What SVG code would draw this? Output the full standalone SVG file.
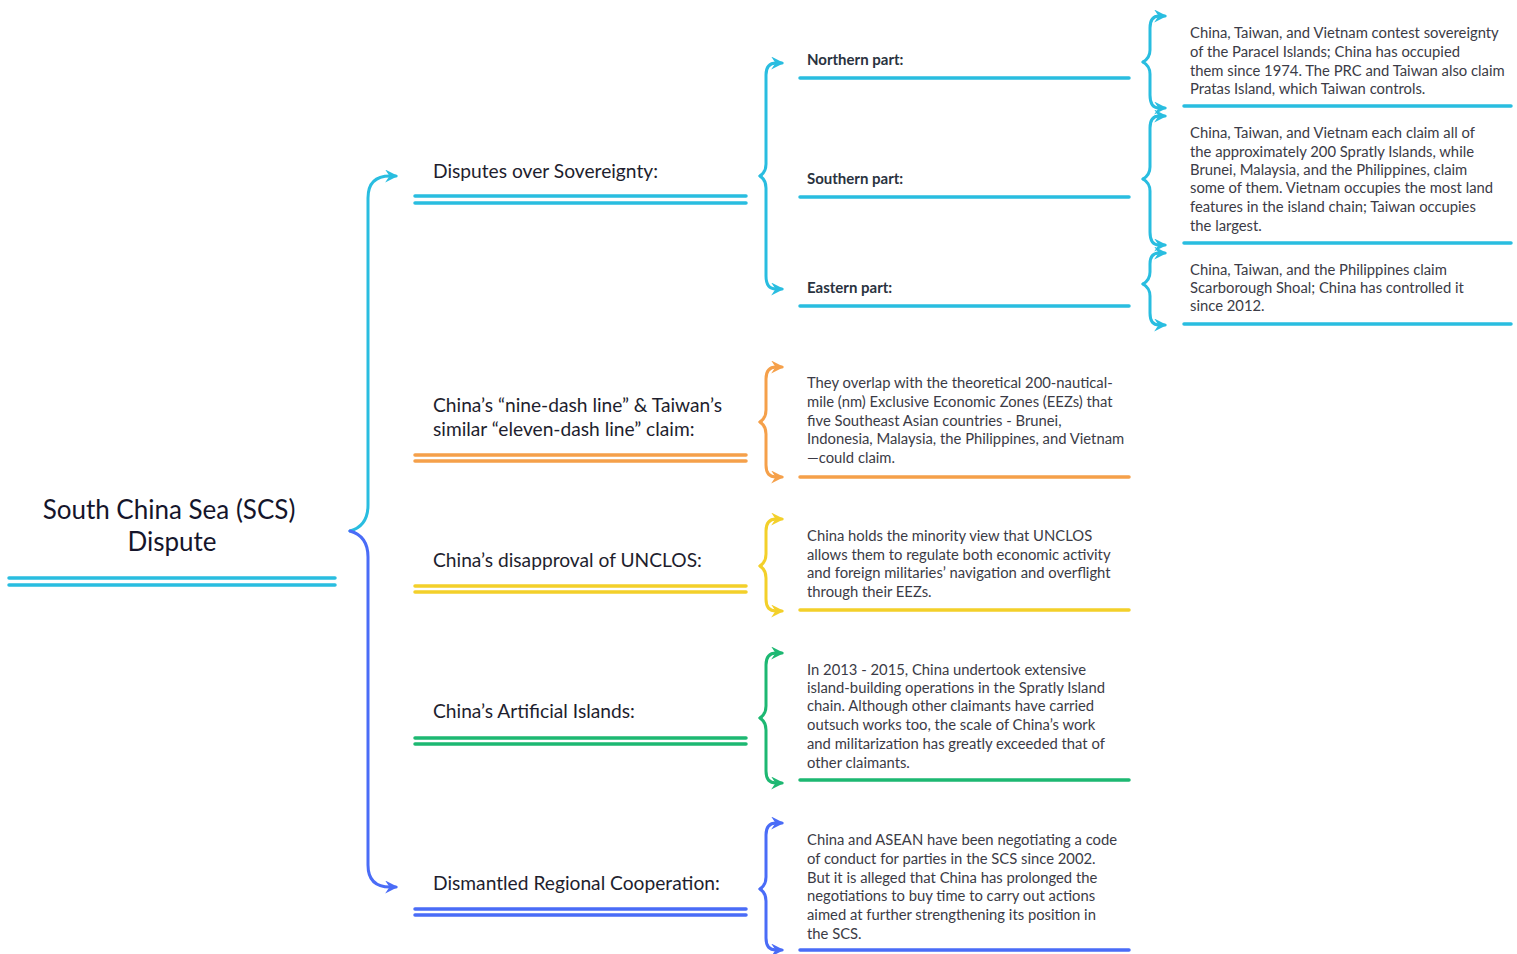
<svg xmlns="http://www.w3.org/2000/svg" width="1517" height="954" viewBox="0 0 1517 954">
<style>
text{font-family:Lato,"Open Sans","Liberation Sans",sans-serif;}
.root{font-size:26px;fill:#15152b;text-anchor:middle;}
.l1{font-size:19.2px;fill:#1e1e2e;}
.l2{font-size:15px;font-weight:bold;fill:#2a3340;}
.d{font-size:14.8px;fill:#3b3b46;}
.b{fill:none;stroke-width:3;stroke-linecap:round;stroke-linejoin:round;}
.u{fill:none;stroke-width:3.5;stroke-linecap:round;}
.cy{stroke:#29bde0;}
.bl{stroke:#4a6cf7;}
.or{stroke:#f5a04a;}
.ye{stroke:#f3d02a;}
.gr{stroke:#1db872;}
</style>
<defs>
<marker id="mcy" viewBox="0 0 12 12" refX="10" refY="6" markerWidth="13" markerHeight="13" markerUnits="userSpaceOnUse" orient="auto"><path d="M0,0 L12,6 L0,12 L4,6 z" fill="#29bde0"/></marker>
<marker id="mbl" viewBox="0 0 12 12" refX="10" refY="6" markerWidth="13" markerHeight="13" markerUnits="userSpaceOnUse" orient="auto"><path d="M0,0 L12,6 L0,12 L4,6 z" fill="#4a6cf7"/></marker>
<marker id="mor" viewBox="0 0 12 12" refX="10" refY="6" markerWidth="13" markerHeight="13" markerUnits="userSpaceOnUse" orient="auto"><path d="M0,0 L12,6 L0,12 L4,6 z" fill="#f5a04a"/></marker>
<marker id="mye" viewBox="0 0 12 12" refX="10" refY="6" markerWidth="13" markerHeight="13" markerUnits="userSpaceOnUse" orient="auto"><path d="M0,0 L12,6 L0,12 L4,6 z" fill="#f3d02a"/></marker>
<marker id="mgr" viewBox="0 0 12 12" refX="10" refY="6" markerWidth="13" markerHeight="13" markerUnits="userSpaceOnUse" orient="auto"><path d="M0,0 L12,6 L0,12 L4,6 z" fill="#1db872"/></marker>
</defs>

<g id="connectors">
<path class="b cy" d="M350,531 Q368,526 368,505 L368,198 Q368,176 390,176 L396,176" marker-end="url(#mcy)"/>
<path class="b bl" d="M350,531 Q368,536 368,557 L368,865 Q368,887 390,887 L396,887" marker-end="url(#mbl)"/>
<path class="b cy" d="M760,176 Q766,172 766,164 L766,75 Q766,63 776,63 L782,63" marker-end="url(#mcy)"/>
<path class="b cy" d="M760,176 Q766,180 766,188 L766,276 Q766,289 776,289 L782,289" marker-end="url(#mcy)"/>
<path class="b cy" d="M1143,62 Q1150,58 1150,50 L1150,28 Q1150,16 1159,16 L1165,16" marker-end="url(#mcy)"/>
<path class="b cy" d="M1143,62 Q1150,66 1150,74 L1150,95 Q1150,108 1159,108 L1165,108" marker-end="url(#mcy)"/>
<path class="b cy" d="M1143,179 Q1150,175 1150,167 L1150,128 Q1150,116 1159,116 L1165,116" marker-end="url(#mcy)"/>
<path class="b cy" d="M1143,179 Q1150,183 1150,191 L1150,232 Q1150,245 1159,245 L1165,245" marker-end="url(#mcy)"/>
<path class="b cy" d="M1143,284 Q1150,280 1150,272 L1150,264 Q1150,253 1159,253 L1165,253" marker-end="url(#mcy)"/>
<path class="b cy" d="M1143,284 Q1150,288 1150,296 L1150,313 Q1150,325 1159,325 L1165,325" marker-end="url(#mcy)"/>
<path class="b or" d="M760,422 Q766,418 766,410 L766,379 Q766,367 776,367 L782,367" marker-end="url(#mor)"/>
<path class="b or" d="M760,422 Q766,426 766,434 L766,465 Q766,477 776,477 L782,477" marker-end="url(#mor)"/>
<path class="b ye" d="M760,566 Q766,562 766,554 L766,531 Q766,519 776,519 L782,519" marker-end="url(#mye)"/>
<path class="b ye" d="M760,566 Q766,570 766,578 L766,599 Q766,611 776,611 L782,611" marker-end="url(#mye)"/>
<path class="b gr" d="M760,718 Q766,714 766,706 L766,665 Q766,653 776,653 L782,653" marker-end="url(#mgr)"/>
<path class="b gr" d="M760,718 Q766,722 766,730 L766,771 Q766,783 776,783 L782,783" marker-end="url(#mgr)"/>
<path class="b bl" d="M760,889 Q766,885 766,877 L766,835 Q766,823 776,823 L782,823" marker-end="url(#mbl)"/>
<path class="b bl" d="M760,889 Q766,893 766,901 L766,938 Q766,950 776,950 L782,950" marker-end="url(#mbl)"/>
</g>

<g id="root">
<text class="root" x="169" y="519">South China Sea (SCS)</text>
<text class="root" x="172" y="551">Dispute</text>
<line class="u cy" x1="9" y1="578" x2="335" y2="578"/>
<line class="u cy" x1="9" y1="585" x2="335" y2="585"/>
</g>

<g id="sovereignty">
<text class="l1" x="433" y="178">Disputes over Sovereignty:</text>
<line class="u cy" x1="415" y1="196" x2="746" y2="196"/>
<line class="u cy" x1="415" y1="203" x2="746" y2="203"/>
</g>
<g id="northern">
<text class="l2" x="807" y="65">Northern part:</text>
<line class="u cy" x1="800" y1="78" x2="1129" y2="78"/>
</g>
<g id="northern-desc">
<text class="d" x="1190" y="38">China, Taiwan, and Vietnam contest sovereignty</text>
<text class="d" x="1190" y="57">of the Paracel Islands; China has occupied</text>
<text class="d" x="1190" y="76">them since 1974. The PRC and Taiwan also claim</text>
<text class="d" x="1190" y="94">Pratas Island, which Taiwan controls.</text>
<line class="u cy" x1="1184" y1="106" x2="1511" y2="106"/>
</g>
<g id="southern">
<text class="l2" x="807" y="184">Southern part:</text>
<line class="u cy" x1="800" y1="197" x2="1129" y2="197"/>
</g>
<g id="southern-desc">
<text class="d" x="1190" y="138">China, Taiwan, and Vietnam each claim all of</text>
<text class="d" x="1190" y="157">the approximately 200 Spratly Islands, while</text>
<text class="d" x="1190" y="175">Brunei, Malaysia, and the Philippines, claim</text>
<text class="d" x="1190" y="193">some of them. Vietnam occupies the most land</text>
<text class="d" x="1190" y="212">features in the island chain; Taiwan occupies</text>
<text class="d" x="1190" y="231">the largest.</text>
<line class="u cy" x1="1184" y1="243" x2="1511" y2="243"/>
</g>
<g id="eastern">
<text class="l2" x="807" y="293">Eastern part:</text>
<line class="u cy" x1="800" y1="306" x2="1129" y2="306"/>
</g>
<g id="eastern-desc">
<text class="d" x="1190" y="275">China, Taiwan, and the Philippines claim</text>
<text class="d" x="1190" y="293">Scarborough Shoal; China has controlled it</text>
<text class="d" x="1190" y="311">since 2012.</text>
<line class="u cy" x1="1184" y1="324" x2="1511" y2="324"/>
</g>

<g id="ninedash">
<text class="l1" x="433" y="412">China’s “nine-dash line” &amp; Taiwan’s</text>
<text class="l1" x="433" y="436">similar “eleven-dash line” claim:</text>
<line class="u or" x1="415" y1="455" x2="746" y2="455"/>
<line class="u or" x1="415" y1="461" x2="746" y2="461"/>
</g>
<g id="ninedash-desc">
<text class="d" x="807" y="388">They overlap with the theoretical 200-nautical-</text>
<text class="d" x="807" y="407">mile (nm) Exclusive Economic Zones (EEZs) that</text>
<text class="d" x="807" y="426">five Southeast Asian countries - Brunei,</text>
<text class="d" x="807" y="444">Indonesia, Malaysia, the Philippines, and Vietnam</text>
<text class="d" x="807" y="463">—could claim.</text>
<line class="u or" x1="800" y1="477" x2="1129" y2="477"/>
</g>

<g id="unclos">
<text class="l1" x="433" y="567">China’s disapproval of UNCLOS:</text>
<line class="u ye" x1="415" y1="586" x2="746" y2="586"/>
<line class="u ye" x1="415" y1="592" x2="746" y2="592"/>
</g>
<g id="unclos-desc">
<text class="d" x="807" y="541">China holds the minority view that UNCLOS</text>
<text class="d" x="807" y="560">allows them to regulate both economic activity</text>
<text class="d" x="807" y="578">and foreign militaries’ navigation and overflight</text>
<text class="d" x="807" y="597">through their EEZs.</text>
<line class="u ye" x1="800" y1="610" x2="1129" y2="610"/>
</g>

<g id="islands">
<text class="l1" x="433" y="718">China’s Artificial Islands:</text>
<line class="u gr" x1="415" y1="738" x2="746" y2="738"/>
<line class="u gr" x1="415" y1="744" x2="746" y2="744"/>
</g>
<g id="islands-desc">
<text class="d" x="807" y="675">In 2013 - 2015, China undertook extensive</text>
<text class="d" x="807" y="693">island-building operations in the Spratly Island</text>
<text class="d" x="807" y="711">chain. Although other claimants have carried</text>
<text class="d" x="807" y="730">outsuch works too, the scale of China’s work</text>
<text class="d" x="807" y="749">and militarization has greatly exceeded that of</text>
<text class="d" x="807" y="768">other claimants.</text>
<line class="u gr" x1="800" y1="780" x2="1129" y2="780"/>
</g>

<g id="cooperation">
<text class="l1" x="433" y="890">Dismantled Regional Cooperation:</text>
<line class="u bl" x1="415" y1="909" x2="746" y2="909"/>
<line class="u bl" x1="415" y1="915" x2="746" y2="915"/>
</g>
<g id="cooperation-desc">
<text class="d" x="807" y="845">China and ASEAN have been negotiating a code</text>
<text class="d" x="807" y="864">of conduct for parties in the SCS since 2002.</text>
<text class="d" x="807" y="883">But it is alleged that China has prolonged the</text>
<text class="d" x="807" y="901">negotiations to buy time to carry out actions</text>
<text class="d" x="807" y="920">aimed at further strengthening its position in</text>
<text class="d" x="807" y="939">the SCS.</text>
<line class="u bl" x1="800" y1="950" x2="1129" y2="950"/>
</g>
</svg>
